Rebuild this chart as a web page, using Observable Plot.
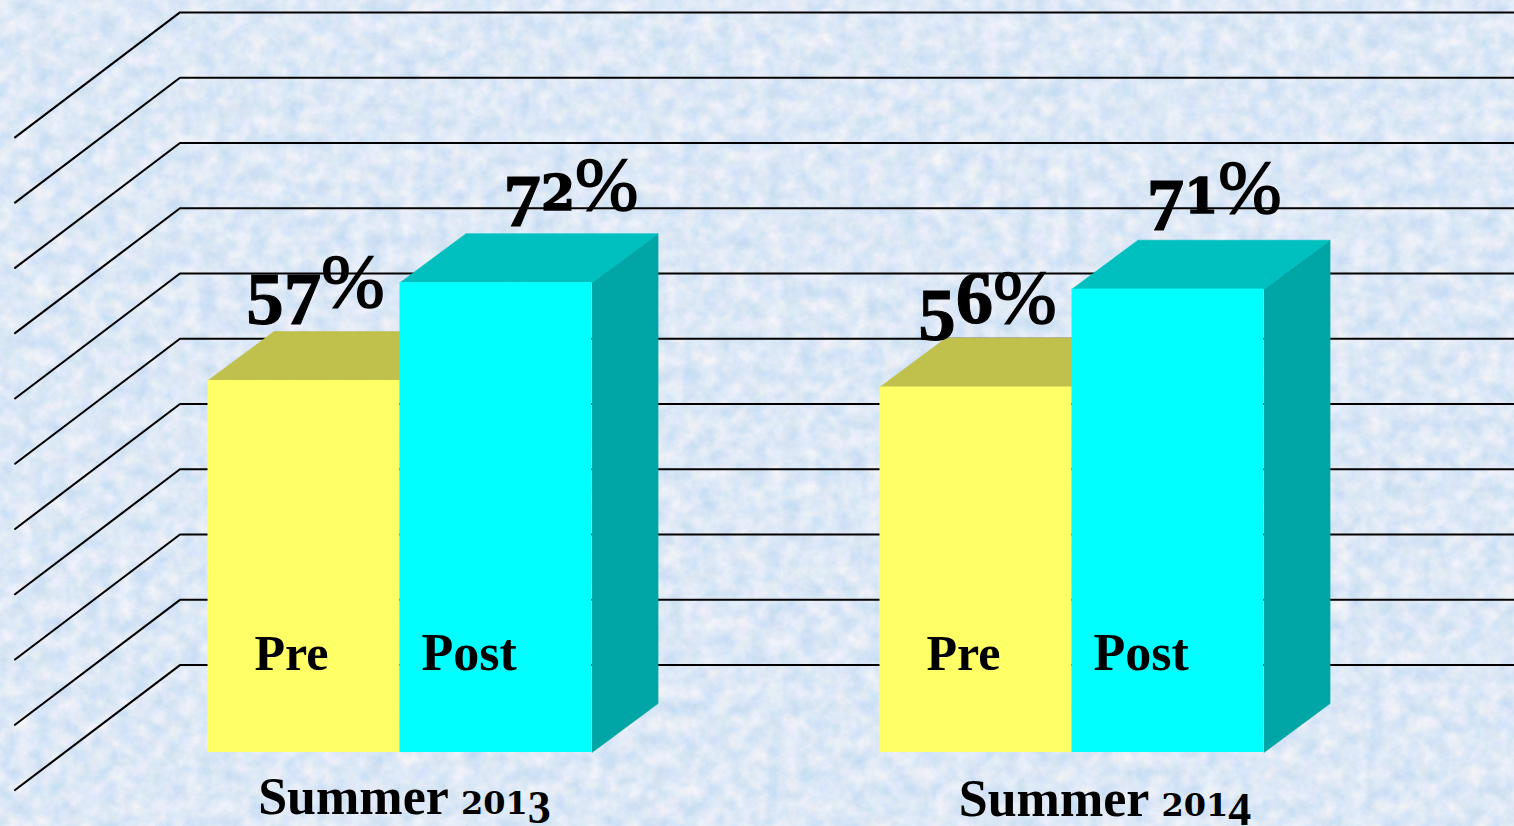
<!DOCTYPE html>
<html>
<head>
<meta charset="utf-8">
<script src="https://cdn.jsdelivr.net/npm/d3@7"></script>
<script src="https://cdn.jsdelivr.net/npm/@observablehq/plot@0.6"></script>
<style>
html,body{margin:0;padding:0;width:1514px;height:826px;overflow:hidden;background:#d9e8f8}
#bg{position:absolute;left:0;top:0}
#chart{position:absolute;left:0;top:0}
#chart svg{display:block;background:transparent}
</style>
</head>
<body>
<svg id="bg" width="1514" height="826" aria-hidden="true">
  <filter id="marble" x="0" y="0" width="100%" height="100%" color-interpolation-filters="sRGB">
    <feTurbulence type="fractalNoise" baseFrequency="0.06" numOctaves="5" seed="11" result="n"/>
    <feColorMatrix in="n" type="matrix" values="
      0.24 0 0 0 0.745
      0.12 0.03 0 0 0.835
      0.03 0 0.05 0 0.925
      0 0 0 0 1"/>
  </filter>
  <rect width="1514" height="826" filter="url(#marble)"/>
</svg>
<div id="chart"></div>
<script>
// Values
const groups = ["Summer 2013", "Summer 2014"];
const series = ["Pre", "Post"];
const pre = [57, 56];
const post = [72, 71];
const gridLevels = [13.4, 23.4, 33.4, 43.4, 53.4, 63.4, 73.4, 83.4, 93.4, 103.4, 113.4];

// Chart geometry, in scale units (one x unit = one bar width, y unit = one percent)
const groupStart = [0, 3.5];
const depthX = 0.344, depthY = 7.5;
const wallX = -0.146, wallFrontX = -1.005, wallDrop = 19.15;

const bars = groups.flatMap((g, i) => [
  {group: g, name: "Pre", v: pre[i], x0: groupStart[i], front: "#ffff66", top: "#c0c04d", side: "#9f9f3d"},
  {group: g, name: "Post", v: post[i], x0: groupStart[i] + 1, front: "#00ffff", top: "#00bfbf", side: "#00a6a6"}
]).map((d, id) => ({...d, id, x1: d.x0 + 1}));

const gridPath = gridLevels.flatMap((l, i) => [
  {i, x: wallFrontX, y: l - wallDrop},
  {i, x: wallX, y: l},
  {i, x: 6.9, y: l}
]);
const sideFaces = bars.filter(d => d.name === "Post").flatMap(d => [
  {id: d.id, c: d.side, x: d.x1, y: 0},
  {id: d.id, c: d.side, x: d.x1 + depthX, y: depthY},
  {id: d.id, c: d.side, x: d.x1 + depthX, y: d.v + depthY},
  {id: d.id, c: d.side, x: d.x1, y: d.v}
]);
const topFaces = bars.flatMap(d => [
  {id: d.id, c: d.top, x: d.x0, y: d.v},
  {id: d.id, c: d.top, x: d.x0 + depthX, y: d.v + depthY},
  {id: d.id, c: d.top, x: d.x1 + depthX, y: d.v + depthY},
  {id: d.id, c: d.top, x: d.x1, y: d.v}
]);

// label placement relative to each bar
const labelDx = [0.06, 0.39, 0.06, 0.24];
const labelDy = [11.2, 11.2, 9.8, 11.6];
const nameDx = {Pre: -0.065, Post: -0.14};
const groupLabelDx = [0.023, 0.172];
const groupLabelY = [-9.35, -9.7];

const fontFamily = "'Liberation Serif', serif";

const chart = Plot.plot({
  width: 1514,
  height: 826,
  margin: 0,
  x: {domain: [-207.5 / 192, 1306.5 / 192], range: [0, 1514], axis: null},
  y: {domain: [-74 / 6.526, 752 / 6.526], range: [826, 0], axis: null},
  style: {background: "transparent", fontFamily},
  marks: [
    Plot.line(gridPath, {x: "x", y: "y", z: "i", stroke: "#000", strokeWidth: 2.1, curve: "linear", strokeLinejoin: "miter"}),
    Plot.line(sideFaces, {x: "x", y: "y", z: "id", fill: "c", stroke: "c", strokeWidth: 0.6, curve: "linear"}),
    Plot.line(topFaces, {x: "x", y: "y", z: "id", fill: "c", stroke: "c", strokeWidth: 0.6, curve: "linear"}),
    Plot.rect(bars, {x1: "x0", x2: "x1", y1: 0, y2: "v", fill: "front"}),
    Plot.text(bars, {
      x: d => d.x0 + 0.5 + nameDx[d.name], y: 12.6, text: "name",
      fontSize: d => d.name === "Post" ? 52 : 50, fontWeight: 700, fill: "#000", textAnchor: "middle"
    }),
    Plot.text(bars, {
      x: d => d.x0 + 0.5 + labelDx[d.id], y: d => d.v + labelDy[d.id], text: d => d.v + "%",
      fontSize: 75, fontWeight: 700, fill: "#000", textAnchor: "middle"
    }),
    Plot.text(groups, {
      x: (d, i) => groupStart[i] + 1 + groupLabelDx[i], y: (d, i) => groupLabelY[i], text: d => d,
      fontSize: 52, fontWeight: 700, fill: "#000", textAnchor: "middle"
    })
  ]
});

// Old-style figures: the installed serif only has lining figures, so each figure is
// set in its own tspan with an old-style height and drop.
function oldStyle(el, s) {
  const str = el.textContent;
  el.textContent = "";
  el.setAttribute("y", 0);
  el.removeAttribute("dy");
  let cur = 0;
  for (const ch of str) {
    const t = document.createElementNS("http://www.w3.org/2000/svg", "tspan");
    t.textContent = ch;
    let drop = 0;
    if ("012".includes(ch)) {
      t.setAttribute("font-size", s.low);
      t.setAttribute("font-family", "'DejaVu Serif'");
      t.setAttribute("stroke", "#000");
      t.setAttribute("stroke-width", s.heavy * 1.5);
    } else if ("3457".includes(ch)) {
      t.setAttribute("font-size", s.tall);
      t.setAttribute("stroke", "#000");
      t.setAttribute("stroke-width", s.heavy);
      drop = s.tall * s.drop;
    } else if (ch === "6") {
      t.setAttribute("font-size", s.tall);
      t.setAttribute("stroke", "#000");
      t.setAttribute("stroke-width", s.heavy);
    } else if (ch === "%") {
      t.setAttribute("font-size", s.pct);
      t.setAttribute("font-weight", 400);
      t.setAttribute("stroke", "#000");
      t.setAttribute("stroke-width", 1.6);
    } else {
      t.setAttribute("font-size", s.letter);
    }
    t.setAttribute("dy", drop - cur);
    cur = drop;
    el.appendChild(t);
  }
}
for (const el of chart.querySelectorAll("text")) {
  const s = el.textContent;
  if (/%$/.test(s)) oldStyle(el, {low: 49, tall: 75, pct: 76, letter: 75, drop: 0.22, heavy: 1});
  else if (/Summer/.test(s)) oldStyle(el, {low: 32, tall: 46, pct: 48, letter: 52, drop: 0.2, heavy: 0});
  else { el.setAttribute("y", 0); el.removeAttribute("dy"); }
}
document.getElementById("chart").append(chart);
</script>
</body>
</html>
